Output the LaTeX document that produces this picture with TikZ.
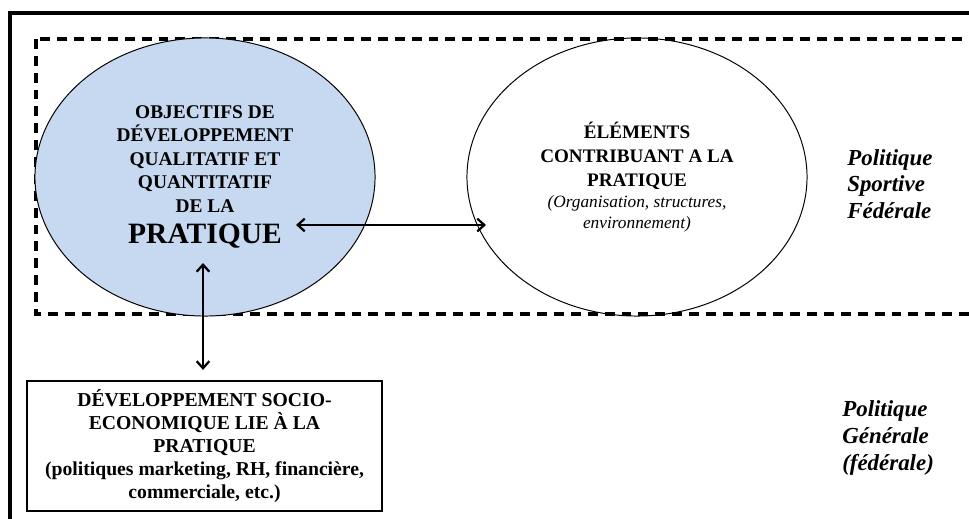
\documentclass[tikz,border=0pt]{standalone}
\usepackage{fontspec}
\setmainfont{Liberation Serif}
\usetikzlibrary{positioning, arrows.meta, shapes}
\definecolor{bleuPratique}{RGB}{198,217,240}

\begin{document}
\begin{tikzpicture}[x=0.025cm, y=-0.025cm, >={Straight Barb[length=5pt,width=9pt]}]
		
		\useasboundingbox (0,0) rectangle (969,519);
		\clip (0,0) rectangle (969,519);
		
		%Cadres (politique generale et politique sportive)
		\draw[line width=2.2pt] (10,13) rectangle (1000,540);
		\draw[line width=2.2pt, dash pattern=on 7pt off 5pt] (36,39) rectangle (1000,314);
		
		%Creo i nodi
		\node (objectifs) at (205,177) [ellipse, draw, line width=0.7pt, fill=bleuPratique, 
		minimum width=8.5cm, minimum height=6.95cm, inner sep=0pt, align=center, 
		font=\bfseries\fontsize{13.8}{16.7}\selectfont] {OBJECTIFS DE\\ DÉVELOPPEMENT\\ 
		QUALITATIF ET\\ QUANTITATIF\\ DE LA\\[6pt] {\fontsize{21}{24}\selectfont PRATIQUE}};
		
		\node (elements) at (637,177) [ellipse, draw, line width=0.7pt, minimum width=8.5cm, 
		minimum height=6.95cm, inner sep=0pt, align=center, font=\fontsize{13.6}{17}\selectfont] 
		{\textbf{ÉLÉMENTS}\\ \textbf{CONTRIBUANT A LA}\\ \textbf{PRATIQUE}\\[-2pt] 
		{\itshape\fontsize{12.3}{14}\selectfont (Organisation, structures,}\\[-2pt] 
		{\itshape\fontsize{12.3}{14}\selectfont environnement)}};
		
		\node (socio) at (204.5,446) [rectangle, draw, line width=0.8pt, minimum width=8.875cm, 
		minimum height=3.25cm, align=center, font=\bfseries\fontsize{14}{16.4}\selectfont] 
		{DÉVELOPPEMENT SOCIO-\\ ECONOMIQUE LIE À LA\\ PRATIQUE\\ 
		(politiques marketing, RH, financière,\\ commerciale, etc.)};
		
		\node (sportive) at (847,184) [anchor=west, align=left, inner sep=0pt, 
		font=\bfseries\itshape\fontsize{16.3}{19}\selectfont] {Politique\\ Sportive\\ Fédérale};
		
		\node (generale) at (842,438) [anchor=west, align=left, inner sep=0pt, 
		font=\bfseries\itshape\fontsize{16.3}{19.3}\selectfont] {Politique\\ Générale\\ (fédérale)};
		
		\coordinate (flecheGauche) at (296,225);
		\coordinate (flecheDroite) at (486,225);
		\coordinate (flecheHaut) at (203,263);
		
		\draw[<->, line width=1.6pt] (flecheGauche) -- (flecheDroite);
		\draw[<->, line width=1.6pt, shorten >=7.5pt] (flecheHaut) -- (flecheHaut |- socio.north);
		
\end{tikzpicture}
\end{document}
